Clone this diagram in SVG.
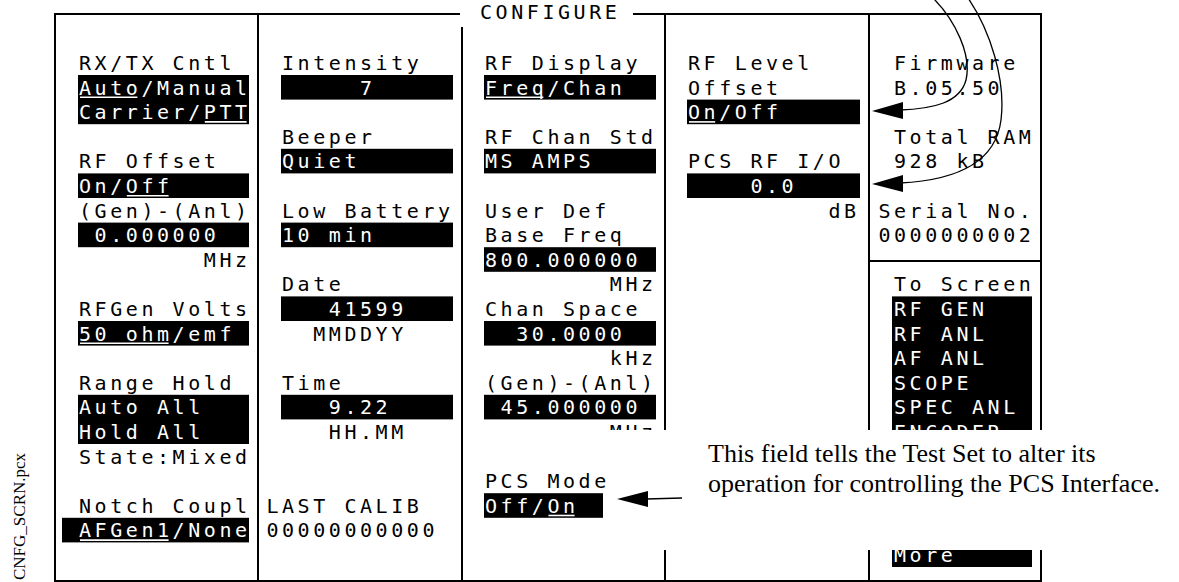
<svg xmlns="http://www.w3.org/2000/svg" width="1179" height="582" viewBox="0 0 1179 582">
<defs>
<style>
.t{font-family:"DejaVu Sans Mono","Liberation Mono",monospace;font-size:20px;letter-spacing:3.56px;fill:#000}
.w{fill:#fff}
.bx{fill:#000}
.ul{stroke:#fff;stroke-width:1.6}
.fr{stroke:#000;stroke-width:2;fill:none}
.cv{stroke:#000;stroke-width:1.3;fill:none}
.ah{fill:#000}
.note{font-family:"Liberation Serif","Times New Roman",serif;font-size:26px;fill:#000}
.fn{font-family:"Liberation Serif","Times New Roman",serif;font-size:17px;fill:#000}
</style>
<clipPath id="above-note"><rect x="0" y="0" width="1179" height="430"/></clipPath>
<clipPath id="below-note"><rect x="0" y="550" width="1179" height="32"/></clipPath>
</defs>
<rect width="1179" height="582" fill="#fff"/>

<g id="frame">
<path class="fr" d="M460,14 H55 V581 H1041 V14 H633"/>
<line class="fr" x1="258" y1="14" x2="258" y2="581"/>
<line class="fr" x1="462" y1="27" x2="462" y2="581"/>
<line class="fr" x1="665" y1="14" x2="665" y2="581"/>
<line class="fr" x1="869" y1="14" x2="869" y2="581"/>
<line class="fr" x1="869" y1="261" x2="1041" y2="261"/>
<text class="t" x="480" y="19">CONFIGURE</text>
</g>

<g id="rxtx-cntl">
<text class="t" x="79" y="70">RX/TX Cntl</text>
<rect class="bx" x="78" y="75" width="171" height="49.2"/>
<text class="t w" x="79" y="94.6">Auto/Manual</text>
<text class="t w" x="79" y="119.2">Carrier/PTT</text>
<line class="ul" x1="80" y1="97.3" x2="137.4" y2="97.3"/>
<line class="ul" x1="204.8" y1="121.9" x2="246.6" y2="121.9"/>
</g>
<g id="rf-offset">
<text class="t" x="79" y="168.4">RF Offset</text>
<rect class="bx" x="78" y="173.4" width="171" height="24.6"/>
<text class="t w" x="79" y="193">On/Off</text>
<line class="ul" x1="126.8" y1="195.7" x2="168.6" y2="195.7"/>
<text class="t" x="79" y="217.6">(Gen)-(Anl)</text>
<rect class="bx" x="78" y="222.6" width="171" height="24.6"/>
<text class="t w" x="94.6" y="242.2">0.000000</text>
<text class="t" x="203.8" y="266.8">MHz</text>
</g>
<g id="rfgen-volts">
<text class="t" x="79" y="316">RFGen Volts</text>
<rect class="bx" x="78" y="321" width="171" height="24.6"/>
<text class="t w" x="79" y="340.6">50 ohm/emf</text>
<line class="ul" x1="80" y1="343.3" x2="168.6" y2="343.3"/>
</g>
<g id="range-hold">
<text class="t" x="79" y="389.8">Range Hold</text>
<rect class="bx" x="78" y="394.8" width="171" height="49.2"/>
<text class="t w" x="79" y="414.4">Auto All</text>
<text class="t w" x="79" y="439">Hold All</text>
<text class="t" x="79" y="463.6">State:Mixed</text>
</g>
<g id="notch-coupl">
<text class="t" x="79" y="512.8">Notch Coupl</text>
<rect class="bx" x="62" y="517.8" width="187" height="24.6"/>
<text class="t w" x="79" y="537.4">AFGen1/None</text>
<line class="ul" x1="80" y1="540.1" x2="168.6" y2="540.1"/>
</g>

<g id="intensity">
<text class="t" x="282" y="70">Intensity</text>
<rect class="bx" x="281" y="75" width="172" height="24.6"/>
<text class="t w" x="360" y="94.6">7</text>
</g>
<g id="beeper">
<text class="t" x="282" y="143.8">Beeper</text>
<rect class="bx" x="281" y="148.8" width="172" height="24.6"/>
<text class="t w" x="282" y="168.4">Quiet</text>
</g>
<g id="low-battery">
<text class="t" x="282" y="217.6">Low Battery</text>
<rect class="bx" x="281" y="222.6" width="172" height="24.6"/>
<text class="t w" x="282" y="242.2">10 min</text>
</g>
<g id="date">
<text class="t" x="282" y="291.4">Date</text>
<rect class="bx" x="281" y="296.4" width="172" height="24.6"/>
<text class="t w" x="328.8" y="316">41599</text>
<text class="t" x="313.2" y="340.6">MMDDYY</text>
</g>
<g id="time">
<text class="t" x="282" y="389.8">Time</text>
<rect class="bx" x="281" y="394.8" width="172" height="24.6"/>
<text class="t w" x="328.8" y="414.4">9.22</text>
<text class="t" x="328.8" y="439">HH.MM</text>
</g>
<g id="last-calib">
<text class="t" x="266.4" y="512.8">LAST CALIB</text>
<text class="t" x="266.4" y="537.4">00000000000</text>
</g>

<g id="rf-display">
<text class="t" x="485" y="70">RF Display</text>
<rect class="bx" x="484" y="75" width="172" height="24.6"/>
<text class="t w" x="485" y="94.6">Freq/Chan</text>
<line class="ul" x1="486" y1="97.3" x2="543.4" y2="97.3"/>
</g>
<g id="rf-chan-std">
<text class="t" x="485" y="143.8">RF Chan Std</text>
<rect class="bx" x="484" y="148.8" width="172" height="24.6"/>
<text class="t w" x="485" y="168.4">MS AMPS</text>
</g>
<g id="user-def-base-freq">
<text class="t" x="485" y="217.6">User Def</text>
<text class="t" x="485" y="242.2">Base Freq</text>
<rect class="bx" x="484" y="247.2" width="172" height="24.6"/>
<text class="t w" x="485" y="266.8">800.000000</text>
<text class="t" x="609.8" y="291.4">MHz</text>
</g>
<g id="chan-space">
<text class="t" x="485" y="316">Chan Space</text>
<rect class="bx" x="484" y="321" width="172" height="24.6"/>
<text class="t w" x="516.2" y="340.6">30.0000</text>
<text class="t" x="609.8" y="365.2">kHz</text>
</g>
<g id="gen-anl-offset">
<text class="t" x="485" y="389.8">(Gen)-(Anl)</text>
<rect class="bx" x="484" y="394.8" width="172" height="24.6"/>
<text class="t w" x="500.6" y="414.4">45.000000</text>
<text class="t" x="609.8" y="439" clip-path="url(#above-note)">MHz</text>
</g>

<g id="rf-level-offset">
<text class="t" x="688" y="70">RF Level</text>
<text class="t" x="688" y="94.6">Offset</text>
<rect class="bx" x="687" y="99.6" width="173" height="24.6"/>
<text class="t w" x="688" y="119.2">On/Off</text>
<line class="ul" x1="689" y1="121.9" x2="715.2" y2="121.9"/>
</g>
<g id="pcs-rf-io">
<text class="t" x="688" y="168.4">PCS RF I/O</text>
<rect class="bx" x="687" y="173.4" width="173" height="24.6"/>
<text class="t w" x="750.4" y="193">0.0</text>
<text class="t" x="828.4" y="217.6">dB</text>
</g>

<g id="firmware">
<text class="t" x="894" y="70">Firmware</text>
<text class="t" x="894" y="94.6">B.05.50</text>
</g>
<g id="total-ram">
<text class="t" x="894" y="143.8">Total RAM</text>
<text class="t" x="894" y="168.4">928 kB</text>
</g>
<g id="serial-no">
<text class="t" x="878.4" y="217.6">Serial No.</text>
<text class="t" x="878.4" y="242.2">0000000002</text>
</g>
<g id="to-screen">
<text class="t" x="894" y="291.4">To Screen</text>
<rect class="bx" x="892" y="296.4" width="140" height="270.6"/>
<text class="t w" x="894" y="316">RF GEN</text>
<text class="t w" x="894" y="340.6">RF ANL</text>
<text class="t w" x="894" y="365.2">AF ANL</text>
<text class="t w" x="894" y="389.8">SCOPE</text>
<text class="t w" x="894" y="414.4">SPEC ANL</text>
<text class="t w" x="894" y="439" clip-path="url(#above-note)">ENCODER</text>
<text class="t w" x="894" y="562" clip-path="url(#below-note)">More</text>
</g>

<rect id="note-mask" x="604" y="430" width="575" height="120" fill="#fff"/>

<g id="pcs-mode">
<text class="t" x="485" y="488.2">PCS Mode</text>
<rect class="bx" x="484" y="493.2" width="119" height="24.6"/>
<text class="t w" x="485" y="512.8">Off/On</text>
<line class="ul" x1="548.4" y1="515.5" x2="574.6" y2="515.5"/>
</g>

<g id="note">
<text class="note" x="708" y="462">This field tells the Test Set to alter its</text>
<text class="note" x="708" y="492">operation for controlling the PCS Interface.</text>
</g>

<g id="connectors">
<path class="cv" d="M933,-2 C955,20 972,55 966,80 C960,103 932,109 900,110"/>
<polygon class="ah" points="872,111 903,102 903,119"/>
<path class="cv" d="M968,-2 C990,30 1006,80 1001,120 C996,160 962,180 900,183"/>
<polygon class="ah" points="872,184 903,175 903,192"/>
<line class="cv" x1="682" y1="498" x2="646" y2="499"/>
<polygon class="ah" points="617,499 648,491 648,507"/>
</g>

<text class="fn" transform="translate(25,580) rotate(-90)">CNFG_SCRN.pcx</text>
</svg>
